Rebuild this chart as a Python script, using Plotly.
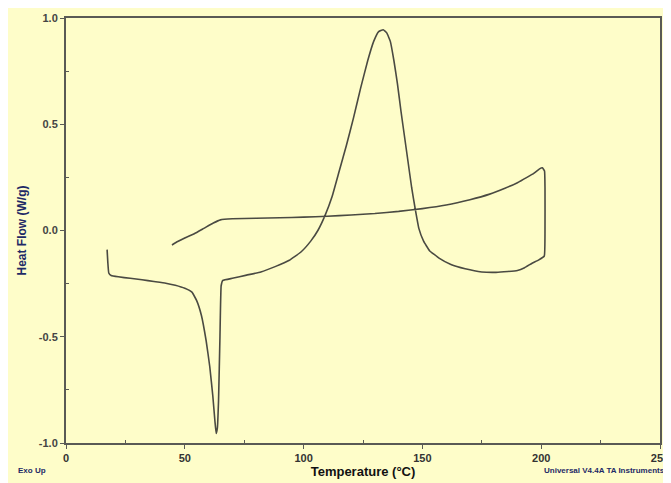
import plotly.graph_objects as go

# DSC trace: heating segment then cooling segment (Temperature °C, Heat Flow W/g)
temperature = [17.3, 17.6, 18.0, 19, 22, 27, 32, 37, 42, 46, 50, 53, 55, 57, 59, 60.5, 61.8, 62.7,
               63.2, 63.7, 64.2, 64.8, 65.3, 66, 70, 76, 82, 88, 94, 99, 103, 106, 109, 112, 115,
               118, 121, 124, 127, 129.5, 131.5, 133.5, 135, 136.5, 138, 139.5, 141, 142.5, 144,
               145.5, 147, 148.5, 150.5, 153, 157, 162, 168, 175, 181, 186, 190, 193, 196, 199,
               201.3, 201.6, 201.6, 201.4, 200.5, 199.3, 197, 194, 190, 185, 178, 170, 160, 150,
               140, 130, 120, 110, 100, 90, 80, 70, 65, 62, 58, 54, 50, 47, 44.6]
heat_flow = [-0.09, -0.15, -0.20, -0.212, -0.218, -0.225, -0.232, -0.24, -0.248, -0.258, -0.272,
             -0.29, -0.33, -0.40, -0.52, -0.64, -0.78, -0.90, -0.955, -0.93, -0.80, -0.50, -0.26,
             -0.235, -0.225, -0.21, -0.195, -0.17, -0.14, -0.10, -0.05, 0.0, 0.07, 0.16, 0.28,
             0.40, 0.53, 0.67, 0.80, 0.89, 0.935, 0.945, 0.93, 0.89, 0.80, 0.69, 0.56, 0.44, 0.32,
             0.20, 0.10, 0.01, -0.05, -0.095, -0.13, -0.16, -0.18, -0.195, -0.197, -0.193, -0.188,
             -0.175, -0.155, -0.138, -0.12, 0.0, 0.2, 0.28, 0.295, 0.29, 0.27, 0.25, 0.225, 0.20,
             0.17, 0.145, 0.12, 0.103, 0.09, 0.08, 0.073, 0.067, 0.063, 0.06, 0.058, 0.055, 0.05,
             0.035, 0.01, -0.015, -0.035, -0.052, -0.068]

x_ticks = [0, 50, 100, 150, 200, 250]
x_labels = ["0", "50", "100", "150", "200", "250"]
y_ticks = [-1.0, -0.5, 0.0, 0.5, 1.0]
y_labels = ["-1.0", "-0.5", "0.0", "0.5", "1.0"]

bg = "#FEFDC9"
axis_col = "#5a5a55"
narrow = "Liberation Sans Narrow, Arial Narrow, sans-serif"

fig = go.Figure()
fig.add_trace(go.Scatter(x=temperature, y=heat_flow, mode="lines",
                         line=dict(color="#4a4a42", width=1.6, shape="spline", smoothing=0.3),
                         showlegend=False, hoverinfo="skip"))

# page body has an 8px default margin, so the figure is sized to fit inside the window
fig.update_layout(
    width=663, height=475,
    paper_bgcolor=bg, plot_bgcolor=bg,
    margin=dict(l=58, r=11, t=10, b=40),
    font=dict(family="Liberation Sans, Arial, sans-serif", color="#222"),
    xaxis=dict(range=[0, 250], tickvals=x_ticks, ticktext=["<b>%s</b>" % t for t in x_labels],
               automargin=False,
               showgrid=False, zeroline=False, showline=True, linecolor=axis_col, linewidth=2,
               mirror=True, ticks="outside", ticklen=4, tickcolor=axis_col,
               tickfont=dict(size=11, family=narrow, color="#333"),
               minor=dict(tickvals=[25, 75, 125, 175, 225], ticks="inside", ticklen=3, tickcolor=axis_col),
               title=dict(text="<b>Temperature (°C)</b>", standoff=2,
                          font=dict(size=13, family=narrow, color="#111"))),
    yaxis=dict(range=[-1.0, 1.0], tickvals=y_ticks, ticktext=["<b>%s</b>" % t for t in y_labels],
               automargin=False,
               showgrid=False, zeroline=False, showline=True, linecolor=axis_col, linewidth=2,
               mirror=True, ticks="outside", ticklen=4, tickcolor=axis_col,
               tickfont=dict(size=11, family=narrow, color="#444"),
               minor=dict(tickvals=[-0.75, -0.25, 0.25, 0.75], ticks="inside", ticklen=3, tickcolor=axis_col),
               title=dict(text="<b>Heat Flow (W/g)</b>", standoff=10,
                          font=dict(size=12, family=narrow, color="#1e2a66"))),
    annotations=[
        dict(text="<b>Exo Up</b>", xref="paper", yref="paper", x=-0.085, y=-0.064,
             xanchor="left", yanchor="middle", showarrow=False,
             font=dict(size=8, family=narrow, color="#1e2a66")),
        dict(text="<b>Universal V4.4A TA Instruments</b>", xref="paper", yref="paper", x=1.012, y=-0.064,
             xanchor="right", yanchor="middle", showarrow=False,
             font=dict(size=8, family=narrow, color="#1e2a66")),
    ],
)

fig.write_html("out.html")
